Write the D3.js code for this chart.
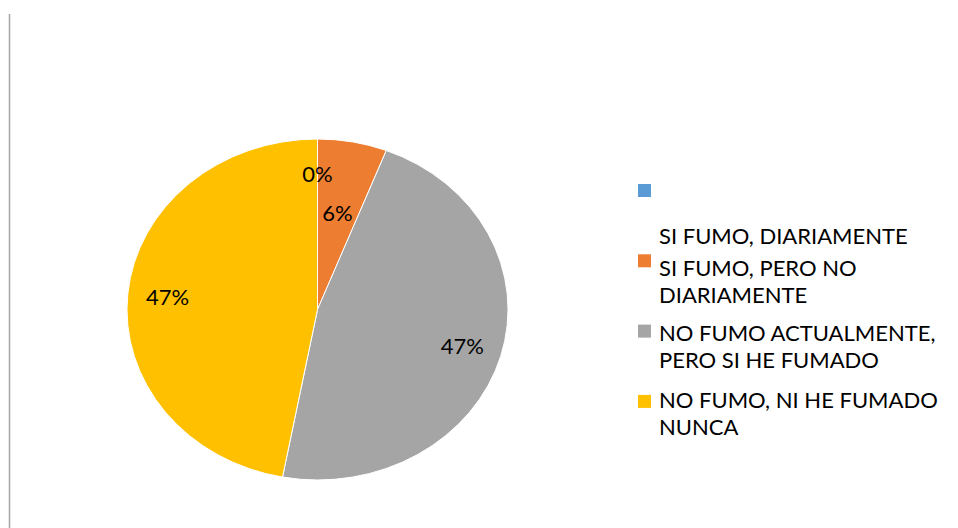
<!DOCTYPE html>
<html>
<head>
<meta charset="utf-8">
<script src="https://cdn.jsdelivr.net/npm/d3@7"></script>
<style>
  html, body { margin: 0; padding: 0; background: #fff; }
  svg { display: block; }
  text { font-family: Lato, "Open Sans", sans-serif; fill: #000; }
</style>
</head>
<body>
<svg id="chart" width="958" height="528"></svg>
<script>
// ---- data ----
const categories = [
  "SI FUMO, DIARIAMENTE",
  "SI FUMO, PERO NO DIARIAMENTE",
  "NO FUMO ACTUALMENTE, PERO SI HE FUMADO",
  "NO FUMO, NI HE FUMADO NUNCA"
];
const values = [0, 1, 8, 8];
const legendLines = [
  ["SI FUMO, DIARIAMENTE"],
  ["SI FUMO, PERO NO", "DIARIAMENTE"],
  ["NO FUMO ACTUALMENTE,", "PERO SI HE FUMADO"],
  ["NO FUMO, NI HE FUMADO", "NUNCA"]
];
const colors = ["#5B9BD5", "#ED7D31", "#A5A5A5", "#FFC000"];

// ---- layout ----
const svg = d3.select("#chart");
const cx = 317.5, cy = 309.5, rx = 190.5, ry = 170.5;
const fontSize = 22;

// left border line
svg.append("line")
  .attr("x1", 9.5).attr("x2", 9.5).attr("y1", 14).attr("y2", 528)
  .attr("stroke", "#a6a6a6").attr("stroke-width", 1.5);

const total = d3.sum(values);
const pie = d3.pie().sort(null).value(d => d)(values);
const arc = d3.arc().innerRadius(0).outerRadius(ry);
const color = d3.scaleOrdinal().domain(categories).range(colors);
const pct = d3.format(".0%");

const g = svg.append("g").attr("transform", `translate(${cx},${cy}) scale(${rx / ry},1)`);
g.selectAll("path").data(pie).join("path")
  .attr("d", arc)
  .attr("fill", (d, i) => color(categories[i]))
  .attr("stroke", "#fff")
  .attr("stroke-width", 1)
  .attr("vector-effect", "non-scaling-stroke");

// labels (best-fit: narrow non-empty slices pulled inward)
const labelFrac = d => (d.value > 0 && d.endAngle - d.startAngle < 0.5) ? 0.57 : 0.79;
const lg = svg.append("g").attr("transform", `translate(${cx},${cy})`);
lg.selectAll("text").data(pie).join("text")
  .attr("text-anchor", "middle")
  .attr("font-size", fontSize)
  .attr("x", d => Math.sin((d.startAngle + d.endAngle) / 2) * rx * labelFrac(d))
  .attr("y", d => -Math.cos((d.startAngle + d.endAngle) / 2) * ry * labelFrac(d) + 7.5)
  .text(d => pct(d.value / total));

// legend
const markerX = 638, markerSize = 13, slot = 70.3, firstMarkerTop = 184;
const lineH = 26.8;
const firstBaselines = [244, 276, 341, 408];
const leg = svg.append("g");
categories.forEach((c, i) => {
  leg.append("rect")
    .attr("x", markerX).attr("y", firstMarkerTop + i * slot)
    .attr("width", markerSize).attr("height", markerSize)
    .attr("fill", color(c));
  const t = leg.append("text")
    .attr("x", 659)
    .attr("y", firstBaselines[i])
    .attr("font-size", fontSize);
  legendLines[i].forEach((line, j) => {
    t.append("tspan")
      .attr("x", 659)
      .attr("dy", j === 0 ? 0 : lineH)
      .text(line);
  });
});
</script>
</body>
</html>
